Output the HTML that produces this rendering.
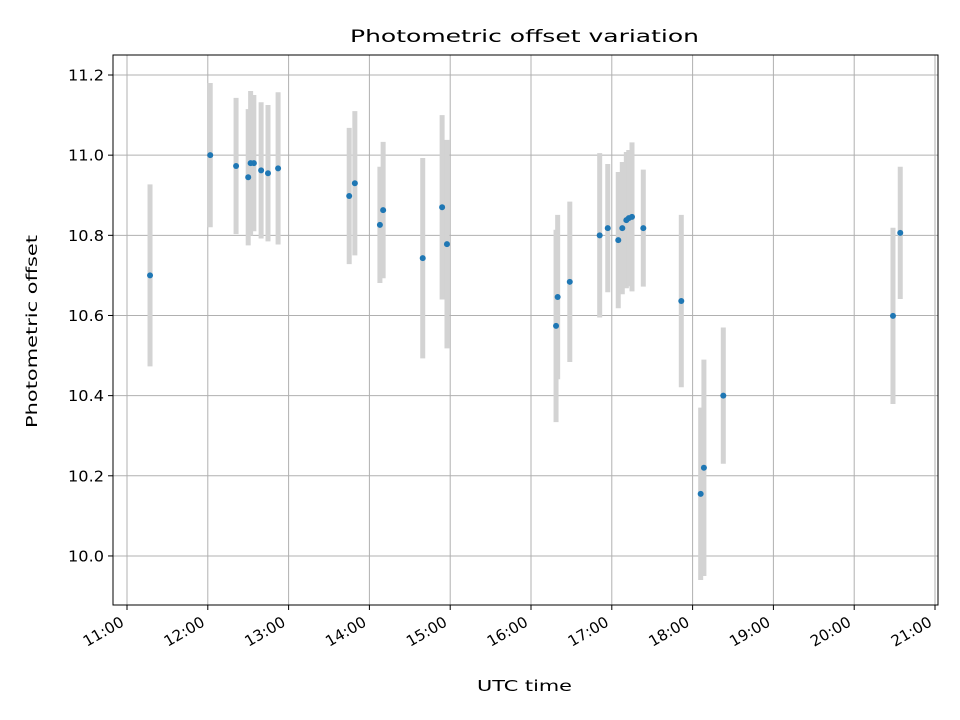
<!DOCTYPE html>
<html><head><meta charset="utf-8"><style>
body{margin:0;background:#fff}
svg{display:block;font-family:"DejaVu Sans","Liberation Sans",sans-serif}
</style></head><body>
<svg id="chart" width="960" height="720" xmlns="http://www.w3.org/2000/svg">
<rect width="960" height="720" fill="#fff"/>
<g id="grid"></g>
<g id="errs"></g>
<g id="pts"></g>
<rect x="113" y="55" width="825" height="550" fill="none" stroke="#000" stroke-width="1"/>
<g id="ticks"></g>
<text x="350" y="42" textLength="349" lengthAdjust="spacingAndGlyphs" font-size="17">Photometric offset variation</text>
<text x="477" y="691" textLength="95" lengthAdjust="spacingAndGlyphs" font-size="15">UTC time</text>
<text transform="translate(37,428) rotate(-90)" textLength="193" lengthAdjust="spacingAndGlyphs" font-size="15">Photometric offset</text>
</svg>
<script>
const times=[11.285,12.03,12.35,12.50,12.53,12.57,12.66,12.745,12.87,13.75,13.82,14.13,14.17,14.66,14.90,14.96,16.31,16.33,16.48,16.85,16.95,17.08,17.13,17.18,17.21,17.25,17.39,17.86,18.10,18.14,18.38,20.48,20.57];
const offsets=[10.70,11.00,10.973,10.945,10.98,10.98,10.962,10.955,10.967,10.898,10.93,10.826,10.863,10.743,10.87,10.778,10.574,10.646,10.684,10.80,10.818,10.788,10.818,10.838,10.843,10.846,10.818,10.636,10.155,10.22,10.40,10.599,10.806];
const errors=[0.227,0.18,0.17,0.17,0.18,0.17,0.17,0.17,0.19,0.17,0.18,0.145,0.17,0.25,0.23,0.26,0.24,0.205,0.2,0.205,0.16,0.17,0.165,0.17,0.17,0.186,0.146,0.215,0.215,0.27,0.17,0.22,0.165];
const xTickHours=[11,12,13,14,15,16,17,18,19,20,21];
const xTickLabels=["11:00","12:00","13:00","14:00","15:00","16:00","17:00","18:00","19:00","20:00","21:00"];
const yTickValues=[10.0,10.2,10.4,10.6,10.8,11.0,11.2];
const yTickLabels=["10.0","10.2","10.4","10.6","10.8","11.0","11.2"];
const NS="http://www.w3.org/2000/svg";
const X=h=>127+(h-11)*80.8;
const Y=v=>75+(11.2-v)*400.8;
function mk(tag,attrs,parent){const e=document.createElementNS(NS,tag);for(const k in attrs)e.setAttribute(k,attrs[k]);parent.appendChild(e);return e;}
const grid=document.getElementById('grid'),ticks=document.getElementById('ticks'),errs=document.getElementById('errs'),pts=document.getElementById('pts');
xTickHours.forEach((h,i)=>{
 const x=X(h);
 const g=mk('line',{x1:x,x2:x,y1:55,y2:605,stroke:'#b0b0b0','stroke-width':1},grid);
 
 
 const t=mk('line',{x1:x,x2:x,y1:605,y2:610,stroke:'#000'},ticks);
 
 
 const ax=x-2, ay=625;
 const l=mk('text',{x:ax-44,y:ay,textLength:44,lengthAdjust:'spacingAndGlyphs','font-size':15,transform:`rotate(-30 ${ax} ${ay})`},ticks);
 l.textContent=xTickLabels[i];
 
 
});
yTickValues.forEach((v,i)=>{
 const y=Y(v);
 const g=mk('line',{x1:113,x2:938,y1:y,y2:y,stroke:'#b0b0b0','stroke-width':1},grid);
 
 
 const t=mk('line',{x1:108,x2:113,y1:y,y2:y,stroke:'#000'},ticks);
 
 
 const l=mk('text',{x:68,y:y+5.5,textLength:36,lengthAdjust:'spacingAndGlyphs','font-size':15},ticks);
 l.textContent=yTickLabels[i];
 
 
});
times.forEach((h,i)=>{
 const x=X(h);
 const e=mk('line',{x1:x,x2:x,y1:Y(offsets[i]+errors[i]),y2:Y(offsets[i]-errors[i]),stroke:'#d3d3d3','stroke-width':5},errs);
 
 
 const c=mk('circle',{cx:x,cy:Y(offsets[i]),r:3,fill:'#1f77b4'},pts);
 
 
});
</script>
</body></html>
